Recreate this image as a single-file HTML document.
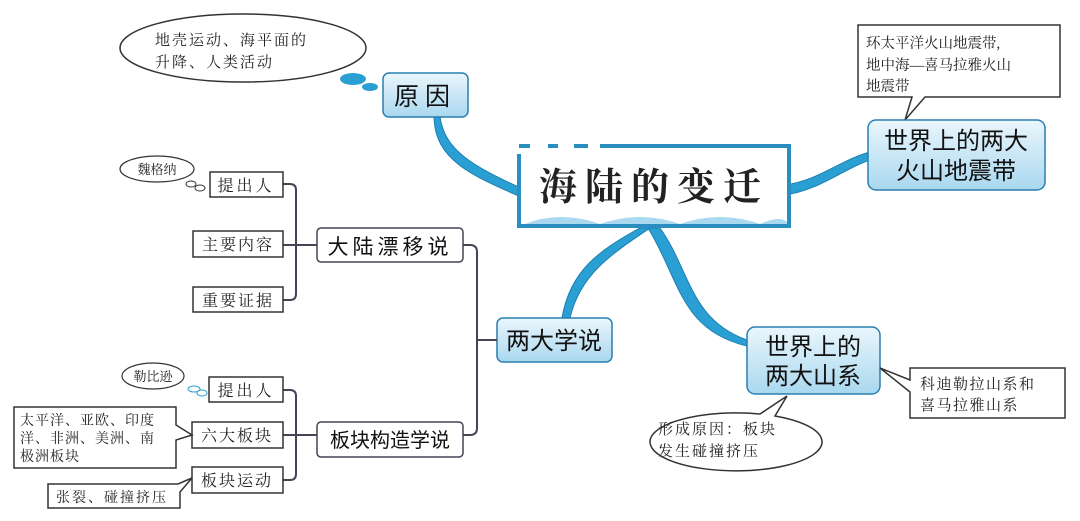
<!DOCTYPE html>
<html><head><meta charset="utf-8"><style>
body{margin:0;background:#fff;}
svg{display:block}
.s{font-family:"Liberation Serif","Noto Serif CJK SC",serif;fill:#222}
.h{font-family:"Liberation Sans","Noto Sans CJK SC",sans-serif;fill:#111}
</style></head><body>
<svg width="1080" height="521" viewBox="0 0 1080 521" xmlns="http://www.w3.org/2000/svg">
<defs>
<linearGradient id="g" x1="0" y1="0" x2="0" y2="1"><stop offset="0" stop-color="#eaf6fc"/><stop offset="1" stop-color="#a9d8ef"/></linearGradient>
</defs>
<g fill="#2a9fd4" stroke="#1f7fb0" stroke-width="1">
<path d="M440 117 C445 150 470 165 525 190 L528 200 C470 175 435 160 434 117 Z"/>
<path d="M785 185 C820 180 840 160 870 152 L870 160 C845 168 820 190 785 195 Z"/>
<path d="M640 228 C600 250 570 270 562 318 L570 318 C580 275 610 255 650 228 Z"/>
<path d="M660 228 C690 270 690 320 747 340 L747 346 C680 330 680 280 648 228 Z"/>
</g>
<rect x="519" y="146" width="270" height="80" fill="#fff"/>
<g stroke="#2a8fc0" stroke-width="4" fill="none">
<path d="M519 154 V226 H789 V146 H600"/>
<path d="M519 146 H530 M548 146 H558 M574 146 H588"/>
</g>
<path d="M525 224 Q560 210 600 224 Q640 210 680 224 Q720 210 760 224 Q780 215 787 222 L787 224 Z" fill="#a9d8ef"/>
<text x="654" y="200" text-anchor="middle" class="s" font-size="38" font-weight="bold" letter-spacing="8">海陆的变迁</text>
<ellipse cx="243" cy="48" rx="123" ry="34" fill="#fff" stroke="#333" stroke-width="1.5"/>
<text x="155" y="45" class="s" font-size="15" letter-spacing="2">地壳运动、海平面的</text>
<text x="155" y="67" class="s" font-size="15" letter-spacing="2">升降、人类活动</text>
<ellipse cx="353" cy="79" rx="13" ry="6" fill="#2a9fd4"/><ellipse cx="370" cy="87" rx="8" ry="4" fill="#2a9fd4"/>
<rect x="383" y="73" width="85" height="44" rx="6" fill="url(#g)" stroke="#2a7fb0" stroke-width="1.5"/>
<text x="425" y="105" text-anchor="middle" class="h" font-size="25" letter-spacing="6">原因</text>
<path d="M858 25 H1060 V97 H925 L905 120 L912 97 H858 Z" fill="#fff" stroke="#333" stroke-width="1.5"/>
<text x="866" y="48" class="s" font-size="14.5">环太平洋火山地震带,</text>
<text x="866" y="70" class="s" font-size="14.5">地中海—喜马拉雅火山</text>
<text x="866" y="91" class="s" font-size="14.5">地震带</text>
<rect x="868" y="120" width="177" height="70" rx="8" fill="url(#g)" stroke="#2a7fb0" stroke-width="1.5"/>
<text x="956" y="149" text-anchor="middle" class="h" font-size="24">世界上的两大</text>
<text x="956" y="179" text-anchor="middle" class="h" font-size="24">火山地震带</text>
<rect x="497" y="318" width="115" height="44" rx="6" fill="url(#g)" stroke="#2a7fb0" stroke-width="1.5"/>
<text x="554" y="349" text-anchor="middle" class="h" font-size="24">两大学说</text>
<rect x="747" y="327" width="133" height="67" rx="8" fill="url(#g)" stroke="#2a7fb0" stroke-width="1.5"/>
<text x="813" y="355" text-anchor="middle" class="h" font-size="24">世界上的</text>
<text x="813" y="384" text-anchor="middle" class="h" font-size="24">两大山系</text>
<path d="M910 368 H1065 V418 H910 V392 L880 368 L910 380 Z" fill="#fff" stroke="#333" stroke-width="1.5"/>
<text x="920" y="389" class="s" font-size="15" letter-spacing="1.5">科迪勒拉山系和</text>
<text x="920" y="410" class="s" font-size="15" letter-spacing="1.5">喜马拉雅山系</text>
<path d="M760 414 L787 396 L775 416 A86 29 0 1 1 760 414 Z" fill="#fff" stroke="#333" stroke-width="1.5"/>
<text x="658" y="434" class="s" font-size="15" letter-spacing="2">形成原因：板块</text>
<text x="658" y="456" class="s" font-size="15" letter-spacing="2">发生碰撞挤压</text>
<g fill="none" stroke="#445" stroke-width="2">
<path d="M283 184 H290 Q296 184 296 190 V294 Q296 300 290 300 H283"/>
<path d="M283 245 H317"/>
<path d="M463 245 H470 Q477 245 477 252 V428 Q477 435 470 435 H463"/>
<path d="M477 340 H497"/>
<path d="M283 390 H290 Q296 390 296 396 V474 Q296 480 290 480 H283"/>
<path d="M283 435 H317"/>
</g>
<rect x="317" y="228" width="146" height="34" rx="4" fill="#fff" stroke="#445" stroke-width="1.5"/>
<text x="390" y="254" text-anchor="middle" class="h" font-size="21" letter-spacing="4">大陆漂移说</text>
<ellipse cx="157" cy="169" rx="37" ry="13" fill="#fff" stroke="#333" stroke-width="1.2"/>
<text x="157" y="174" text-anchor="middle" class="s" font-size="13">魏格纳</text>
<ellipse cx="191" cy="184" rx="5" ry="3" fill="#fff" stroke="#333"/><ellipse cx="200" cy="188" rx="5" ry="3" fill="#fff" stroke="#333"/>
<g fill="#fff" stroke="#333" stroke-width="1.5">
<rect x="210" y="172" width="73" height="25"/><rect x="193" y="231" width="90" height="26"/><rect x="193" y="287" width="90" height="25"/>
</g>
<text x="246" y="191" text-anchor="middle" class="s" font-size="16" letter-spacing="3">提出人</text>
<text x="238" y="250" text-anchor="middle" class="s" font-size="16" letter-spacing="2">主要内容</text>
<text x="238" y="306" text-anchor="middle" class="s" font-size="16" letter-spacing="2">重要证据</text>
<rect x="317" y="422" width="146" height="35" rx="4" fill="#fff" stroke="#445" stroke-width="1.5"/>
<text x="390" y="447" text-anchor="middle" class="h" font-size="20">板块构造学说</text>
<ellipse cx="153" cy="376" rx="31" ry="13" fill="#fff" stroke="#333" stroke-width="1.2"/>
<text x="153" y="381" text-anchor="middle" class="s" font-size="13">勒比逊</text>
<ellipse cx="194" cy="389" rx="6" ry="3" fill="#fff" stroke="#2a9fd4"/><ellipse cx="202" cy="393" rx="5" ry="3" fill="#fff" stroke="#2a9fd4"/>
<g fill="#fff" stroke="#333" stroke-width="1.5">
<rect x="209" y="377" width="74" height="25"/><rect x="192" y="422" width="91" height="26"/><rect x="192" y="467" width="91" height="26"/>
<path d="M14 407 H176 V425 L192 435 L176 440 V468 H14 Z"/>
<path d="M48 484 H178 L192 478 L180 492 V508 H48 Z"/>
</g>
<text x="246" y="396" text-anchor="middle" class="s" font-size="16" letter-spacing="3">提出人</text>
<text x="237" y="441" text-anchor="middle" class="s" font-size="16" letter-spacing="2">六大板块</text>
<text x="237" y="486" text-anchor="middle" class="s" font-size="16" letter-spacing="2">板块运动</text>
<text x="20" y="425" class="s" font-size="14" letter-spacing="1">太平洋、亚欧、印度</text>
<text x="20" y="443" class="s" font-size="14" letter-spacing="1">洋、非洲、美洲、南</text>
<text x="20" y="461" class="s" font-size="14" letter-spacing="1">极洲板块</text>
<text x="56" y="502" class="s" font-size="14" letter-spacing="2">张裂、碰撞挤压</text>
</svg>
</body></html>
